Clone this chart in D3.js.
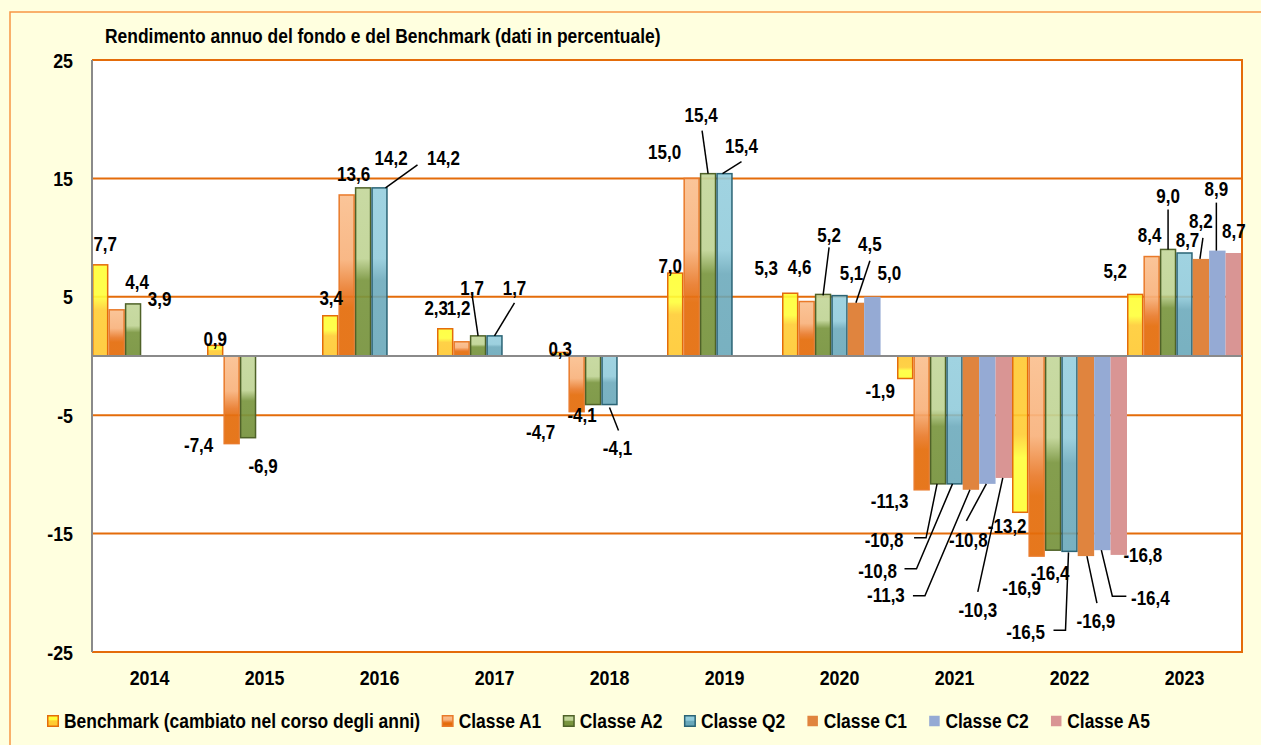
<!DOCTYPE html>
<html>
<head>
<meta charset="utf-8">
<script src="https://cdn.jsdelivr.net/npm/d3@7"></script>
<style>
html, body { margin: 0; padding: 0; background: #FFFFDF; }
svg { display: block; }
text { font-family: "Liberation Sans", Arial, sans-serif; font-weight: bold; fill: #000; }
</style>
</head>
<body>
<div id="chart"></div>
<script>
// data
const years = ["2014", "2015", "2016", "2017", "2018", "2019", "2020", "2021", "2022", "2023"];
const seriesNames = ["Benchmark (cambiato nel corso degli anni)", "Classe A1", "Classe A2", "Classe Q2", "Classe C1", "Classe C2", "Classe A5"];
const benchmark = [7.7, 0.9, 3.4, 2.3, 0.3, 7.0, 5.3, -1.9, -13.2, 5.2];
const classeA1 = [3.9, -7.4, 13.6, 1.2, -4.7, 15.0, 4.6, -11.3, -16.9, 8.4];
const classeA2 = [4.4, -6.9, 14.2, 1.7, -4.1, 15.4, 5.2, -10.8, -16.4, 9.0];
const classeQ2 = [null, null, 14.2, 1.7, -4.1, 15.4, 5.1, -10.8, -16.5, 8.7];
const classeC1 = [null, null, null, null, null, null, 4.5, -11.3, -16.9, 8.2];
const classeC2 = [null, null, null, null, null, null, 5.0, -10.8, -16.4, 8.9];
const classeA5 = [null, null, null, null, null, null, null, -10.3, -16.8, 8.7];
const yTicks = [-25, -15, -5, 5, 15, 25];

const seriesValues = [benchmark, classeA1, classeA2, classeQ2, classeC1, classeC2, classeA5];

// hand placed data labels (offset of label centre from bar tip), like the excel original
// [series, year index, dx, dy]
const labelOffsets = [
    [0,0,5,-21],[1,0,43,-11],[2,0,4,-22],
    [0,1,0,-7],[1,1,-33,1],[2,1,15,28],
    [0,2,1,-18],[1,2,7,-21],[2,2,28,-30],[3,2,64,-30],
    [0,3,-9,-21],[1,3,-3,-34],[2,3,-6,-48],[3,3,20,-48],
    [0,4,0,-4],[1,4,-36,20],[2,4,-11,10],[3,4,8,43],
    [0,5,-5,-7],[1,5,-27,-27],[2,5,-7,-59],[3,5,17,-28],
    [0,6,-24,-25],[1,6,-7,-35],[2,6,6,-60],[3,6,12,-23],[4,6,14,-59],[5,6,17,-24],
    [0,7,-25,12],[1,7,-32,11],[2,7,-54,56],[3,7,-77,87],[4,7,-85,105],[5,7,-19,56],[6,7,-26,132],
    [0,8,-13,14],[1,8,-15,32],[2,8,-3,23],[3,8,-44,80],[4,8,10,65],[5,8,48,48],[6,8,24,0],
    [0,9,-20,-24],[1,9,-2,-22],[2,9,0,-54],[3,9,3,-13],[4,9,0,-38],[5,9,-1,-62],[6,9,0,-22]
];
// leader lines, points relative to bar tip
const leaders = [
    [3,2,[[6,0],[38,-23]]],
    [2,3,[[0,0],[-6,-41]]],
    [3,3,[[0,0],[20,-33]]],
    [3,4,[[0,3],[9,26]]],
    [2,5,[[0,0],[-6,-43]]],
    [3,5,[[-2,0],[17,-12]]],
    [2,6,[[0,1],[6,-47]]],
    [4,6,[[0,0],[14,-42]]],
    [2,7,[[-1,0],[-12,54],[-24,54]]],
    [3,7,[[-2,0],[-38,85],[-50,85]]],
    [4,7,[[-1,0],[-46,106],[-58,106]]],
    [5,7,[[-1,0],[-21,37]]],
    [6,7,[[-1,0],[-26,114]]],
    [3,8,[[-1,1],[-4,79],[-16,79]]],
    [4,8,[[1,0],[11,47]]],
    [5,8,[[-1,0],[10,46],[24,46]]],
    [2,9,[[0,0],[0,-40]]],
    [4,9,[[-1,0],[2,-21]]],
    [5,9,[[-1,0],[-1,-48]]]
];

const W = 1261, H = 745;
const K = 0.85; // narrow font look
const plot = { left: 92, right: 1242, top: 60, bottom: 652 };

const fmt = d3.formatLocale({ decimal: ",", thousands: ".", grouping: [3], currency: ["", ""], minus: "-" }).format(".1f");

const svg = d3.select("#chart").append("svg")
    .attr("width", W)
    .attr("height", H);

const defs = svg.append("defs");
function grad(id, stops) {
    const g = defs.append("linearGradient").attr("id", id)
        .attr("x1", 0).attr("y1", 0).attr("x2", 0).attr("y2", 1);
    stops.forEach(s => g.append("stop").attr("offset", s[0]).attr("stop-color", s[1]));
}
grad("gB", [[0, "#FFFF33"], [0.35, "#FFFF3A"], [0.5, "#FFCC33"], [1, "#FFC830"]]);
grad("gBn", [[0, "#FFC830"], [0.5, "#FFCC33"], [0.65, "#FFFF3A"], [1, "#FFFF33"]]);
grad("gA1", [[0, "#FAC090"], [0.4, "#F8B27C"], [0.6, "#E97A2A"], [0.7, "#E46C0A"], [1, "#E46C0A"]]);
grad("gA2", [[0, "#C4D79B"], [0.42, "#C0D495"], [0.55, "#7A963F"], [1, "#76923C"]]);
grad("gQ2", [[0, "#93CDDD"], [0.42, "#8FCADA"], [0.55, "#69A8BA"], [1, "#66A6B8"]]);

const styles = [
    { fill: v => v < 0 ? "url(#gBn)" : "url(#gB)", stroke: "#E46C0A", opacity: 0.9 },
    { fill: () => "url(#gA1)", stroke: "#E97A2A", opacity: 0.92 },
    { fill: () => "url(#gA2)", stroke: "#4F6228", opacity: 0.92 },
    { fill: () => "url(#gQ2)", stroke: "#2B6475", opacity: 0.88 },
    { fill: () => "#E0843E", stroke: null, opacity: 1 },
    { fill: () => "#95AAD4", stroke: null, opacity: 1 },
    { fill: () => "#D99594", stroke: null, opacity: 1 }
];

function txt(g, x, y, str, size, anchor) {
    return g.append("text")
        .attr("transform", `translate(${x},${y}) scale(${K},1)`)
        .attr("text-anchor", anchor || "start")
        .style("font-size", size + "px")
        .text(str);
}

// background + outer frame
svg.append("rect").attr("width", W).attr("height", H).attr("fill", "#FFFFDF");
svg.append("rect")
    .attr("x", 10).attr("y", 12).attr("width", W + 40).attr("height", H + 40)
    .attr("fill", "none").attr("stroke", "#F79646").attr("stroke-width", 1.5);

const x = d3.scaleBand().domain(years).range([plot.left, plot.right]).padding(0);
const xs = d3.scaleBand().domain(d3.range(seriesValues.length)).range([0, x.bandwidth()]).padding(0);
const y = d3.scaleLinear().domain([-25, 25]).range([plot.bottom, plot.top]);

svg.append("rect")
    .attr("x", plot.left).attr("y", plot.top)
    .attr("width", plot.right - plot.left).attr("height", plot.bottom - plot.top)
    .attr("fill", "#fff");

// gridlines
svg.append("g").selectAll("line").data(yTicks).join("line")
    .attr("x1", plot.left).attr("x2", plot.right)
    .attr("y1", d => y(d)).attr("y2", d => y(d))
    .attr("stroke", "#E46C0A").attr("stroke-width", 2);

// bars
const barX = (s, i) => x(years[i]) + xs(s);
const bars = svg.append("g");
seriesValues.forEach((vals, s) => {
    const st = styles[s];
    const sw = st.stroke ? 1.5 : 0;
    bars.append("g").selectAll("rect")
        .data(vals.map((v, i) => ({ v, i })).filter(d => d.v !== null))
        .join("rect")
        .attr("x", d => barX(s, d.i) + sw / 2)
        .attr("width", xs.bandwidth() - sw)
        .attr("y", d => Math.min(y(d.v), y(0)))
        .attr("height", d => Math.abs(y(d.v) - y(0)))
        .attr("fill", d => st.fill(d.v))
        .attr("fill-opacity", st.opacity)
        .attr("stroke", st.stroke || "none")
        .attr("stroke-width", sw);
});

// right frame, zero line, left axis
svg.append("line").attr("x1", plot.right).attr("x2", plot.right)
    .attr("y1", plot.top - 1).attr("y2", plot.bottom + 1)
    .attr("stroke", "#E46C0A").attr("stroke-width", 2);
svg.append("line").attr("x1", plot.left).attr("x2", plot.right)
    .attr("y1", y(0)).attr("y2", y(0))
    .attr("stroke", "#8A8A8A").attr("stroke-width", 2);
svg.append("line").attr("x1", plot.left).attr("x2", plot.left)
    .attr("y1", plot.top).attr("y2", plot.bottom)
    .attr("stroke", "#8A8A8A").attr("stroke-width", 2);

// axis labels
const axisG = svg.append("g");
yTicks.forEach(t => txt(axisG, 73, y(t), t, 21, "end").attr("dy", "0.36em"));
years.forEach(yr => txt(axisG, x(yr) + x.bandwidth() / 2, 685, yr, 21, "middle"));

// title
txt(svg, 105, 43, "Rendimento annuo del fondo e del Benchmark (dati in percentuale)", 20.5, "start");

// leader lines
const tip = (s, i) => [barX(s, i) + xs.bandwidth() / 2, y(seriesValues[s][i])];
const leaderG = svg.append("g");
leaders.forEach(([s, i, pts]) => {
    const [tx, ty] = tip(s, i);
    leaderG.append("path")
        .attr("d", d3.line()(pts.map(p => [tx + p[0], ty + p[1]])))
        .attr("fill", "none").attr("stroke", "#000").attr("stroke-width", 1.5);
});

// data labels
const labelG = svg.append("g");
labelOffsets.forEach(([s, i, dx, dy]) => {
    const [tx, ty] = tip(s, i);
    txt(labelG, tx + dx, ty + dy, fmt(seriesValues[s][i]), 20, "middle").attr("dy", "0.36em");
});

// legend
const legend = svg.append("g");
let lx = 47;
seriesNames.forEach((name, s) => {
    const st = styles[s];
    legend.append("rect")
        .attr("x", lx + 0.75).attr("y", 715.75)
        .attr("width", 10.5).attr("height", 10.5)
        .attr("fill", st.fill(1))
        .attr("stroke", st.stroke || "none")
        .attr("stroke-width", st.stroke ? 1.5 : 0);
    const t = txt(legend, lx + 17, 728, name, 20.5, "start");
    const w = t.node().getComputedTextLength() * K;
    lx = lx + 17 + w + 21.5;
});
</script>
</body>
</html>
